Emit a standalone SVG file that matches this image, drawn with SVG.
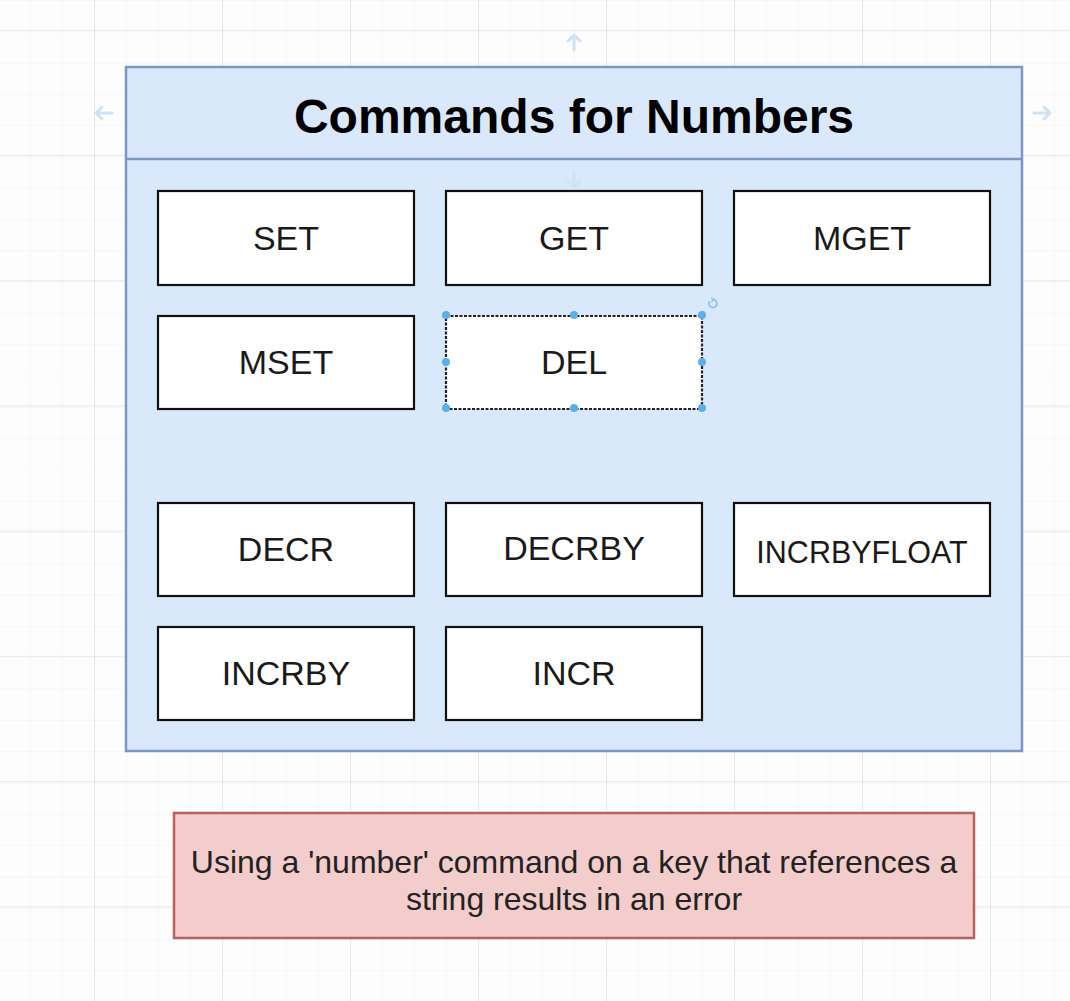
<svg xmlns="http://www.w3.org/2000/svg" width="1070" height="1001" viewBox="0 0 1070 1001">
<style>
.cmd{fill:#ffffff;stroke:#111111;stroke-width:2.2}
.lbl{font-family:"Liberation Sans",Arial,sans-serif;font-size:34px;fill:#1a1a1a;text-anchor:middle}
.title{font-family:"Liberation Sans",Arial,sans-serif;font-size:48px;font-weight:bold;fill:#000;text-anchor:middle}
.note{font-family:"Liberation Sans",Arial,sans-serif;font-size:32px;fill:#222;text-anchor:middle}
.hint{fill:none;stroke:#cfe2f4;stroke-width:3;stroke-linecap:round;stroke-linejoin:round}
.handle{fill:#5cb0e6}
</style>
<defs>
<pattern id="minor" x="-2" y="0" width="32" height="31.3" patternUnits="userSpaceOnUse">
<path d="M0 0H32M0 0V31.3" fill="none" stroke="#f0f0f0" stroke-width="1.2"/>
</pattern>
<pattern id="major" x="94" y="29.8" width="128" height="125.2" patternUnits="userSpaceOnUse">
<path d="M0 0H128M0 0V125.2" fill="none" stroke="#e2e2e2" stroke-width="1.5"/>
</pattern>
</defs>
<rect width="1070" height="1001" fill="#fdfdfd"/>
<rect width="1070" height="1001" fill="url(#minor)"/>
<rect width="1070" height="1001" fill="url(#major)"/>

<g id="container">
<rect x="126" y="67" width="896" height="684" fill="#dae8fc" stroke="#7d96c4" stroke-width="2.5"/>
<line x1="126" y1="159" x2="1022" y2="159" stroke="#7d96c4" stroke-width="2.5"/>
<text class="title" x="574" y="133">Commands for Numbers</text>
</g>

<g id="hints">
<path class="hint" d="M112 113H96M102 107L96 113L102 119"/>
<path class="hint" d="M1034 113H1050M1044 107L1050 113L1044 119"/>
<path class="hint" d="M574 50V35M568 41L574 35L580 41"/>
<path class="hint" d="M574 172V187M568 181L574 187L580 181"/>
</g>

<g id="set"><rect class="cmd" x="158" y="191" width="256" height="94"/><text class="lbl" x="286" y="250">SET</text></g>
<g id="get"><rect class="cmd" x="446" y="191" width="256" height="94"/><text class="lbl" x="574" y="250">GET</text></g>
<g id="mget"><rect class="cmd" x="734" y="191" width="256" height="94"/><text class="lbl" x="862" y="250">MGET</text></g>
<g id="mset"><rect class="cmd" x="158" y="316" width="256" height="93"/><text class="lbl" x="286" y="374">MSET</text></g>
<g id="del">
<rect x="446" y="316" width="256" height="93" fill="#ffffff" stroke="#222" stroke-width="2.2" stroke-dasharray="3 1.5"/>
<text class="lbl" x="574" y="374">DEL</text>
<g class="handle">
<circle cx="446" cy="315" r="4"/><circle cx="574" cy="315" r="4"/><circle cx="702" cy="315" r="4"/>
<circle cx="446" cy="362" r="4"/><circle cx="702" cy="362" r="4"/>
<circle cx="446" cy="408" r="4"/><circle cx="574" cy="408" r="4"/><circle cx="702" cy="408" r="4"/>
</g>
<path d="M709.5 301.5A4 4 0 1 0 713 299.5" fill="none" stroke="#8cc4ec" stroke-width="1.8"/>
<path d="M711 297.5L714 299.5L711 302" fill="none" stroke="#8cc4ec" stroke-width="1.5"/>
</g>
<g id="decr"><rect class="cmd" x="158" y="503" width="256" height="93"/><text class="lbl" x="286" y="561">DECR</text></g>
<g id="decrby"><rect class="cmd" x="446" y="503" width="256" height="93"/><text class="lbl" x="574" y="560">DECRBY</text></g>
<g id="incrbyfloat"><rect class="cmd" x="734" y="503" width="256" height="93"/><text class="lbl" x="862" y="563" style="font-size:30.5px">INCRBYFLOAT</text></g>
<g id="incrby"><rect class="cmd" x="158" y="627" width="256" height="93"/><text class="lbl" x="286" y="685">INCRBY</text></g>
<g id="incr"><rect class="cmd" x="446" y="627" width="256" height="93"/><text class="lbl" x="574" y="685">INCR</text></g>

<g id="note">
<rect x="174" y="813" width="800" height="125" fill="#f2cdcb" stroke="#b8625e" stroke-width="2.5"/>
<text class="note" x="574" y="873">Using a 'number' command on a key that references a</text>
<text class="note" x="574" y="910">string results in an error</text>
</g>

<g id="connectors"></g>
</svg>
